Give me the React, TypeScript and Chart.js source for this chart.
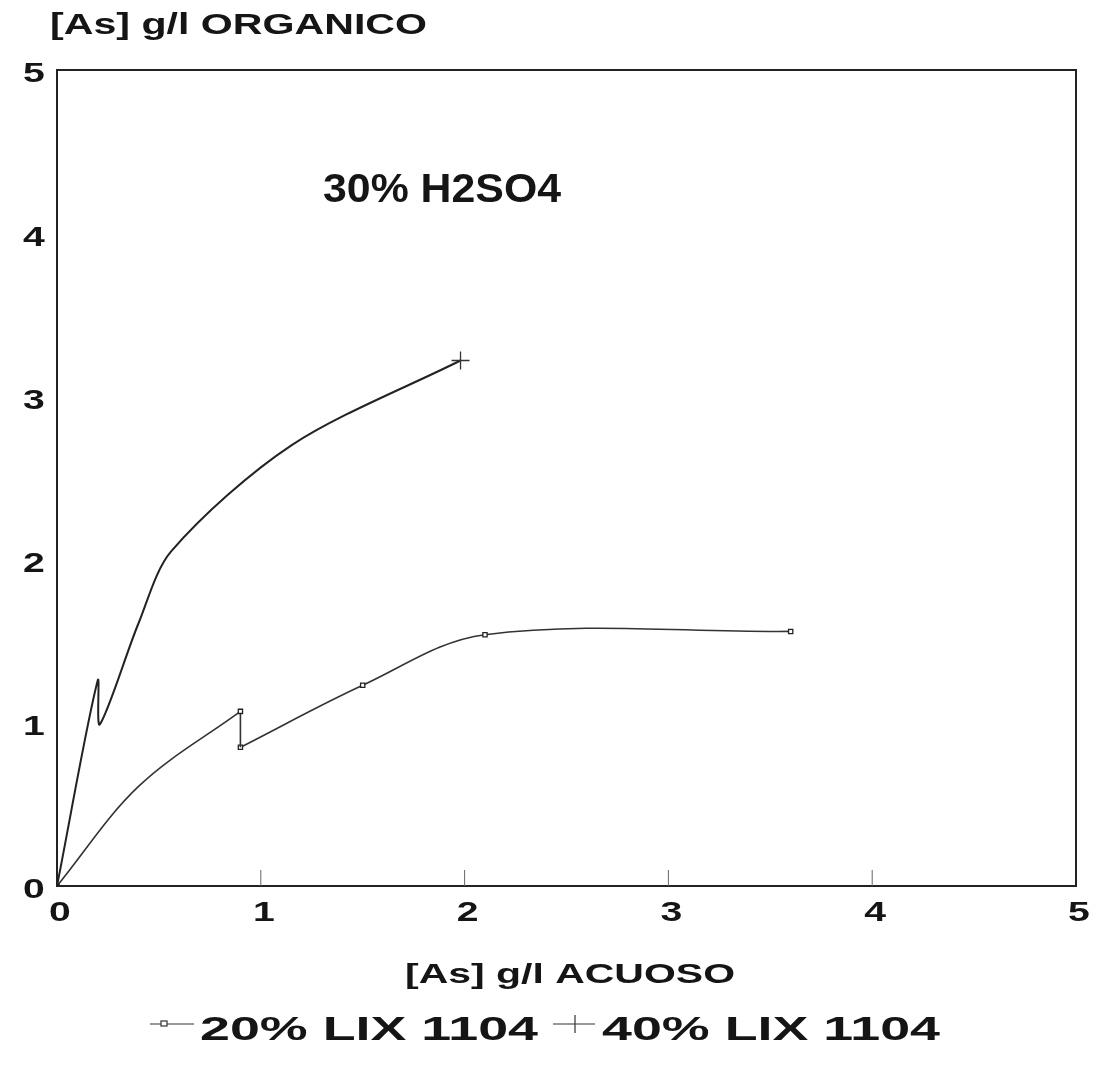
import React, { useEffect, useRef } from "react";
import { Chart, registerables } from "chart.js";

Chart.register(...registerables);

// ---- data ----
const xTicks = [0, 1, 2, 3, 4, 5];
const yTicks = [0, 1, 2, 3, 4, 5];

const lix20X = [0, 0.4, 0.9, 0.9, 1.5, 2.1, 3.6];
const lix20Y = [0, 0.61, 1.07, 0.85, 1.23, 1.54, 1.56];
const lix20Marked = [true, false, true, true, true, true, true];
const lix20DropIndex = 2; // vertical drop between index 2 and 3

const lix40X = [0, 0.2, 0.21, 0.4, 0.56, 1.15, 1.98];
const lix40Y = [0, 1.26, 0.99, 1.61, 2.05, 2.7, 3.22];
const lix40Marked = [false, false, false, false, false, false, true];

const seriesNames = ["20% LIX 1104", "40% LIX 1104"];
const xTitle = "[As] g/l ACUOSO";
const yTitle = "[As] g/l ORGANICO";
const note = "30% H2SO4";

const FONT = '"Liberation Sans", Arial, Helvetica, sans-serif';

function drawFit(
  ctx: CanvasRenderingContext2D,
  text: string,
  left: number,
  baseline: number,
  size: number,
  weight: string,
  width: number
) {
  ctx.save();
  ctx.font = `${weight} ${size}px ${FONT}`;
  ctx.textAlign = "left";
  ctx.textBaseline = "alphabetic";
  const w = ctx.measureText(text).width;
  const sx = width / w;
  ctx.translate(left, baseline);
  ctx.scale(sx, 1);
  ctx.fillStyle = "#151515";
  ctx.fillText(text, 0, 0);
  ctx.restore();
}

function drawCentered(
  ctx: CanvasRenderingContext2D,
  text: string,
  cx: number,
  cy: number,
  size: number,
  sx: number
) {
  ctx.save();
  ctx.font = `bold ${size}px ${FONT}`;
  ctx.textAlign = "center";
  ctx.textBaseline = "middle";
  ctx.translate(cx, cy);
  ctx.scale(sx, 1);
  ctx.fillStyle = "#151515";
  ctx.fillText(text, 0, 0);
  ctx.restore();
}

const decorPlugin = {
  id: "decor",
  beforeDraw(chart: any) {
    const ctx = chart.ctx;
    ctx.save();
    ctx.fillStyle = "#ffffff";
    ctx.fillRect(0, 0, chart.width, chart.height);
    ctx.restore();
  },
  afterDraw(chart: any) {
    const ctx: CanvasRenderingContext2D = chart.ctx;
    const a = chart.chartArea;
    const xs = chart.scales.x;
    const ys = chart.scales.y;

    // frame
    ctx.save();
    ctx.strokeStyle = "#222";
    ctx.lineWidth = 2;
    ctx.strokeRect(a.left, a.top, a.right - a.left, a.bottom - a.top);

    // inner tick marks on x axis
    ctx.lineWidth = 1;
    ctx.strokeStyle = "#666";
    xTicks.forEach((v) => {
      if (v === 0 || v === 5) return;
      const px = xs.getPixelForValue(v);
      ctx.beginPath();
      ctx.moveTo(px, a.bottom);
      ctx.lineTo(px, a.bottom - 16);
      ctx.stroke();
    });
    ctx.restore();

    // tick labels
    xTicks.forEach((v) => {
      drawCentered(ctx, String(v), xs.getPixelForValue(v) + 3, a.bottom + 28, 27, 1.45);
    });
    yTicks.forEach((v) => {
      drawCentered(ctx, String(v), a.left - 23, ys.getPixelForValue(v) + 5, 27, 1.45);
    });

    // titles
    drawFit(ctx, yTitle, 50, 34, 29, "bold", 377);
    drawFit(ctx, xTitle, 405, 983, 28, "bold", 330);
    drawFit(ctx, note, 323, 202, 41, "bold", 238);

    // legend
    const ly = 1024;
    ctx.save();
    ctx.strokeStyle = "#333";
    ctx.lineWidth = 1.2;
    ctx.beginPath();
    ctx.moveTo(150, ly);
    ctx.lineTo(194, ly);
    ctx.stroke();
    ctx.fillStyle = "#fff";
    ctx.fillRect(161, ly - 3, 6, 5);
    ctx.strokeRect(161, ly - 3, 6, 5);
    ctx.beginPath();
    ctx.moveTo(553, ly);
    ctx.lineTo(595, ly);
    ctx.moveTo(575, ly - 9);
    ctx.lineTo(575, ly + 9);
    ctx.stroke();
    ctx.restore();
    drawFit(ctx, seriesNames[0], 200, 1040, 34, "bold", 338);
    drawFit(ctx, seriesNames[1], 602, 1040, 34, "bold", 338);
  },
};

export default function App() {
  const ref = useRef<HTMLCanvasElement | null>(null);

  useEffect(() => {
    if (!ref.current) return;
    const pts20 = lix20X.map((x, i) => ({ x, y: lix20Y[i] }));
    const rad20 = lix20Marked.map((m) => (m ? 3 : 0));
    const fill20 = lix20X.map((x) => (x === 0 ? "#111" : "#fff"));
    const partA = pts20.slice(0, lix20DropIndex + 1);
    const drop = pts20.slice(lix20DropIndex, lix20DropIndex + 2);
    const partB = pts20.slice(lix20DropIndex + 1);
    const d40 = lix40X.map((x, i) => ({ x, y: lix40Y[i] }));

    const style20 = {
      showLine: true,
      borderColor: "#333",
      borderWidth: 1.6,
      pointStyle: "rect" as const,
      pointBorderColor: "#222",
      pointBorderWidth: 1.3,
    };

    const chart = new Chart(ref.current, {
      type: "scatter",
      data: {
        datasets: [
          {
            ...style20,
            label: seriesNames[0],
            data: partA,
            tension: 0.35,
            pointRadius: rad20.slice(0, lix20DropIndex + 1),
            pointBackgroundColor: fill20.slice(0, lix20DropIndex + 1),
          },
          {
            ...style20,
            label: seriesNames[0] + " drop",
            data: drop,
            tension: 0,
            pointRadius: 0,
          },
          {
            ...style20,
            label: seriesNames[0] + " b",
            data: partB,
            tension: 0.35,
            pointRadius: rad20.slice(lix20DropIndex + 1),
            pointBackgroundColor: fill20.slice(lix20DropIndex + 1),
          },
          {
            label: seriesNames[1],
            data: d40,
            showLine: true,
            borderColor: "#222",
            borderWidth: 2,
            tension: 0.3,
            pointStyle: "cross",
            pointRadius: lix40Marked.map((m) => (m ? 9 : 0)),
            pointBorderColor: "#333",
            pointBorderWidth: 1.3,
          },
        ],
      },
      options: {
        responsive: false,
        animation: false,
        layout: { padding: { left: 57, right: 25, top: 70, bottom: 185 } },
        plugins: {
          legend: { display: false },
          tooltip: { enabled: false },
          title: { display: false },
        },
        scales: {
          x: { type: "linear", min: 0, max: 5, display: false },
          y: { type: "linear", min: 0, max: 5, display: false },
        },
      },
      plugins: [decorPlugin],
    });
    return () => chart.destroy();
  }, []);

  return (
    <div style={{ position: "absolute", left: 0, top: 0, width: 1101, height: 1071, background: "#fff" }}>
      <canvas ref={ref} width={1101} height={1071} style={{ display: "block" }} />
    </div>
  );
}
